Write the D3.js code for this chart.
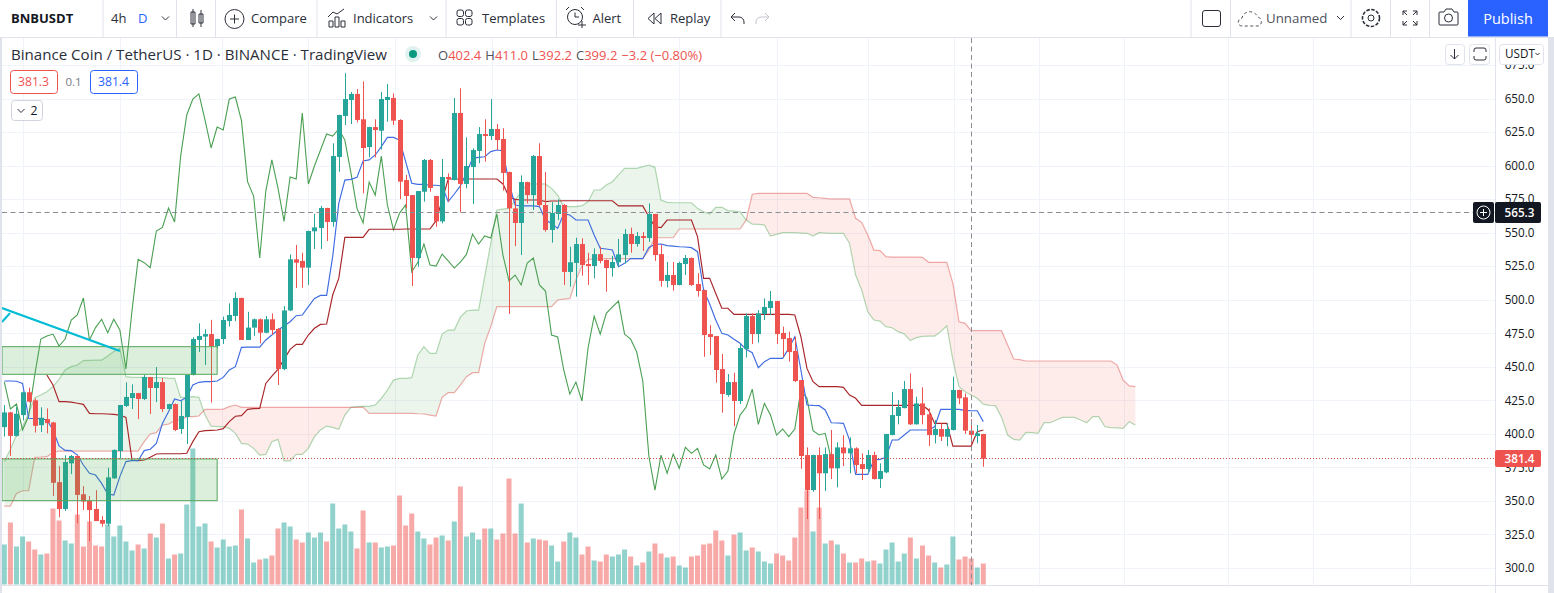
<!DOCTYPE html>
<html><head><meta charset="utf-8">
<script src="https://cdn.jsdelivr.net/npm/d3@7"></script>
<style>html,body{margin:0;padding:0;background:#fff;overflow:hidden}svg{display:block}text{font-family:"Open Sans","Noto Sans",sans-serif}</style>
</head><body><div id="chart"></div>
<script>
const opens=[405,416,398.5,414,431,425,406.5,411,408.5,364,344,378,383.5,355,350,344,335.8,333,366.8,387.2,420.8,426.7,430.4,426,442.4,434.2,438.6,418.5,422.2,403.6,412.6,443.9,470,472.5,474.4,465.5,470.7,484.1,487.9,501.3,470,479.2,485.4,475.4,485.4,478.2,448.3,492,530.1,528.9,523.9,551,553.5,568.4,557.9,606.4,637,648.9,653.4,634.5,613.8,628.7,626,648.9,650.4,634,589.2,578,531.1,580.5,604.2,577.3,558.4,591.5,589.2,639.2,586.3,598.9,610.9,623.5,622,627.3,619.8,595.2,568.1,557.2,587.7,578,607.1,570.6,552,563.9,570.6,520.7,527.4,541.5,526.6,525.1,534,529.6,523.6,527.9,533.3,549,541.5,547.5,546,563.9,534,514,518.4,511,526.6,531.1,511.7,507.2,474.4,472.9,448.3,429,438.6,424.5,463.2,487.8,474.4,489.3,493.8,499,475.2,471.4,461.8,440.1,384.2,358.1,384.2,370.6,384.9,374.3,389.9,385.5,389.2,377.5,373.8,384.2,366.3,371.3,399.1,413.3,419.2,433.4,407.1,422.7,414.5,399.1,403.6,397.9,402.9,432.7,427.2,402.4,398.4,399.9];
const highs=[421.5,416.5,420,431.5,434.4,426.5,419.8,419,409,376,384,384.2,384,361,353.7,358,338.7,374.8,388.5,421.5,438.4,436.9,430.5,443.9,442.5,449.8,441.6,422.5,422.7,424.5,444,472,482.4,478,485,471,487.4,497.3,505.5,501.5,491,486,486,487.9,489.8,479,495.3,533.8,540.8,535,551.5,563.9,569.9,568.5,616.6,638,668.8,654.8,657,662.8,629,634.5,654.8,660.8,653.8,634.5,593,578,581,604.9,604.9,577.5,604.9,594.2,650.4,657.6,621,612.9,628.7,634.5,649.6,631,627.8,595.5,574.3,592.7,588,607.9,616.6,595.2,572.8,574.8,571.3,539.5,546.2,545.8,535,538.3,539.5,530,532.6,545.3,552.7,553.7,550.5,550.5,571.8,564,540.8,528.1,528.1,528.4,533.3,531.5,519.7,507.5,481.1,473,459.5,444.6,445.6,467.5,489.8,489.8,492.3,501,506.5,499.2,479.9,476.2,472.4,440.2,389.9,384.5,389.9,389.9,402.9,393.7,399,397.4,390,385.5,388,386.7,378,400,431.2,425.2,439.4,445.1,427.7,434.7,419,410.3,407.8,407.8,442.6,433,430.2,411,406.6,400];
const lows=[398,383.5,398,410,423.5,401,401.4,400.4,353.7,337.8,342.5,370,333.3,343.2,319.9,335,330.8,331.3,366.5,381.7,420,418.5,411.1,425.2,414.8,423.7,416.3,418,402.1,399.9,392.4,443.5,461,451.3,423.3,463.8,467,480,484,470,470,473,467.5,475,473.7,436.4,447.5,491.5,508.7,509,511,537.8,537.8,543.8,554.4,595.4,630.2,631,632.2,579.3,606.2,606,612,632.7,630.2,575,568.1,510.2,524.6,573.1,580.5,554.4,556.9,573.1,589,565.1,583,571.3,601.7,602.9,619,611.6,581.3,489.4,540,533.3,571.8,566.9,569.4,550.7,542.5,559.4,511,509.7,502.3,517.9,511,515.9,527.1,506,517.2,524.6,527.1,535,539.5,536.3,543,528.9,509.7,509.2,506.7,510.7,518.4,510.2,502.3,457.5,458.8,438.1,415.8,427.7,405.8,422.2,457,466.9,468,484.9,488.6,467,457.5,453.8,438.6,374,336.5,356.9,336.5,357.4,366.3,360.1,376,370.6,370.6,365.6,370.6,366,359.6,370.6,399,407.1,419,406.6,407,407.1,390.9,392.9,394.7,390.9,402.5,422.2,399.9,392.2,392.9,375.5];
const closes=[416,398.5,415,431,424,406,412,408,363.5,344,379,383.5,354.5,349.5,343.2,335,333,367.6,388,421.5,427.5,430.4,426,442.4,434.2,438.6,418.5,422.2,402.9,413.3,443.9,470.7,473,474.4,465.5,470.7,484.9,488.6,501.3,470,479.2,485.4,475.4,485.4,477.4,448.3,492,530.1,527.6,523.9,551.2,553.9,568.4,557.9,607.1,637.7,649.6,653.4,634,613.1,628.7,626.5,649.6,651.1,633.5,588,577.3,531.1,581,604.2,583.3,558.4,591.5,590,639.2,586.3,599.7,611.6,623.5,622,627.3,619,594.5,568.1,557.2,587.7,578,607.1,570.6,552,564.6,570.6,520.7,527.9,541.5,525.9,525.1,534,528.9,523.6,528.1,533.8,549,541.5,547.5,546,563.9,533.3,514,518.4,511,527.4,531.1,511,506.5,473.7,472.2,447.6,429.7,438.6,424.5,464,487.8,474.4,489.8,494.6,499,474.4,470.7,461,439.4,383.5,358.1,384.2,370.6,384.9,374.3,389.9,385.5,389.2,376.8,373.8,384.2,366.3,372.3,399.9,414,420,433.4,407.1,422.7,414,399.1,403.6,397.9,403.6,432.7,426.5,402.4,399.2,400.4,381.4];
const volumes=[120,186,114,144,129,105,90,93,228,192,132,123,210,114,189,117,114,180,144,177,129,102,120,108,153,141,183,78,90,93,240,408,174,183,129,111,135,114,117,225,138,66,75,78,87,168,186,174,135,126,156,141,156,129,243,168,180,159,108,222,126,126,111,114,117,267,177,213,159,138,120,141,147,132,189,294,144,156,135,168,168,135,153,318,153,243,126,138,135,132,117,69,129,156,141,90,114,72,69,90,84,90,105,84,57,66,99,123,93,81,84,57,51,84,87,120,123,162,132,87,150,156,102,111,99,69,63,93,87,72,141,231,282,159,231,123,132,120,93,66,66,78,69,72,63,105,126,69,93,141,78,117,87,66,51,60,144,75,84,78,51,63];
const tenkan=[439.4,439.4,439.2,437.6,411.6,411.3,411.3,410.3,402.9,391,387.7,387.5,384.2,376.8,370.6,369.3,363.1,355.1,354.4,368.1,379.3,380,380,387.5,388.5,392.9,407.8,416.5,426,424.7,427.2,436.4,438.4,438.9,438.9,439.4,442.1,447.6,450.1,464.5,464.7,464.7,464.7,470,473.7,477.4,480.4,483.6,488.1,488.6,494.8,501,503.2,503.2,532.1,571.8,589.2,589.7,591.2,603.4,604.2,607.9,614.1,621,621,619,602.9,586.8,586,586,585.3,585.3,584.8,573.1,578.8,584.8,594.2,605.4,606.1,606.6,610.4,611.6,611.1,586.8,570.6,569.9,569.9,569.9,569.4,559.4,556.9,553.2,563.9,563.2,559.4,559.4,559.4,548.2,538.3,537.8,537.1,524.6,527.1,530.6,530.6,530.6,539,541.3,541.5,540.3,540,539.5,539.3,538.8,535.8,507.2,496.8,484.9,474.9,473.7,470.5,467.5,463,460.5,449.3,453.8,456.3,456.3,456.3,463.7,472.4,447.6,421.5,421.2,421,417.8,408.3,408.1,407.8,395.4,369.8,369.8,369.8,380.5,381,382.5,395.4,395.4,399.1,402.9,402.9,402.9,402.9,405.3,418.3,418.3,418.3,418.3,417.5,417.2,417.2,409.1];
const kijun=[null,null,null,null,null,null,null,443.9,436.4,424,424,423.7,422.8,422,415.3,415,415,414.8,414.5,414,412.3,380.5,380,380.5,382.5,385,385.2,385.2,385.2,385.2,385.5,394.2,401.6,402.4,402.6,402.9,403.9,409.1,413.1,413.6,418.3,418.8,419,437.6,443.1,448.1,455.5,463,466.7,466.7,473.7,478.7,481.6,481.9,503.5,515.9,546.5,546.5,546.5,546.5,552.5,552.5,552.5,552.5,552.5,552.5,552.7,552.7,552.7,552.7,552.7,558.9,574.3,590,590,590,590,590,590,590,590,590,586.3,576.8,574.8,574.3,574.3,574.3,574.3,573.1,573.6,573.6,573.8,573.8,573.8,573.8,573.8,573.8,573.8,573.8,573.8,569.9,569.9,569.9,569.9,569.9,561.9,554.4,553.7,559.4,559.4,559.4,559.4,559.4,547,515.9,515.9,504.7,493.6,493.6,489.1,489.1,489.1,489.1,489.1,489.1,489.1,489.1,489.1,489.1,488.6,472.4,448.8,438.9,435.2,435.2,435.2,435.2,434.7,428.9,426.5,421.2,421.2,421.2,421.2,421.2,421.2,421.2,421.2,421.2,421.2,421.2,417.8,407.8,407.8,407.8,390.9,390.9,390.9,390.9,401.6,402.9];
const chikou=[438.6,418.5,422.2,402.9,413.3,443.9,470.7,473,474.4,465.5,470.7,484.9,488.6,501.3,470,479.2,485.4,475.4,485.4,477.4,448.3,492,530.1,527.6,523.9,551.2,553.9,568.4,557.9,607.1,637.7,649.6,653.4,634,613.1,628.7,626.5,649.6,651.1,633.5,588,577.3,531.1,581,604.2,583.3,558.4,591.5,590,639.2,586.3,599.7,611.6,623.5,622,627.3,619,594.5,568.1,557.2,587.7,578,607.1,570.6,552,564.6,570.6,520.7,527.9,541.5,525.9,525.1,534,528.9,523.6,528.1,533.8,549,541.5,547.5,546,563.9,533.3,514,518.4,511,527.4,531.1,511,506.5,473.7,472.2,447.6,429.7,438.6,424.5,464,487.8,474.4,489.8,494.6,499,474.4,470.7,461,439.4,383.5,358.1,384.2,370.6,384.9,374.3,389.9,385.5,389.2,376.8,373.8,384.2,366.3,372.3,399.9,414,420,433.4,407.1,422.7,414,399.1,403.6,397.9,403.6,432.7,426.5,402.4,399.2,400.4,381.4];
const spanA=[379.3,388.5,399.1,405.3,415.3,427,429,431.4,435.2,440.6,447.6,450.1,451.3,454.6,454.8,455,455,458,461.3,463.8,442.6,442.1,442.1,442.1,441.9,441.9,441.9,441.6,441.4,427.2,427.2,427.7,427.2,414,405.8,405.4,405.4,404.1,400.4,392.9,392.4,389.2,384.2,384.7,394.2,395.9,379.8,379.8,384.7,384.7,389.2,397.9,402.9,405.8,404.8,403.4,414,419.8,420.3,420.5,420.5,421.5,426.5,432.7,440.1,441.4,441.4,441.9,458.8,465,460,460,474.4,477.4,477.4,487,491.6,492.3,492.3,517.2,542,566.9,567.6,568.1,574.3,580.5,586.3,586.3,586.3,586.3,583,578,569.4,569.4,569.4,570.1,573.1,581.8,581.8,585.5,588,593,597.9,597.9,597.9,599.2,600.4,598.7,574.3,572.6,572.3,572.3,572.3,572.3,568.1,565.6,563.9,568.9,568.9,566.4,566.1,565.6,559.4,556.4,556.2,555.7,547.5,548.7,550,550,550,549.7,549.5,547.5,550,549.7,549.5,549.5,549.5,542,518.4,507.2,491,484.9,484.1,479.9,479.1,476.2,474.4,469.5,471.7,472.7,472.9,472.9,476.2,480.6,455,435.2,431.4,428.9,426.5,422.2,421.2,421,412.3,399.1,395.9,395.4,401.1,400.9,400.4,408.3,408.3,410.3,412.3,412.3,412.3,410.3,408.3,412.8,412.8,405.3,404.6,404.4,404.1,409.1,406.6];
const spanB=[346.2,346.2,355.6,357.6,357.6,382.5,382.7,383,386,387.2,387.2,387.2,387.2,387.2,387.2,387.2,387.2,387.2,387.2,387.2,387.2,387.2,387.2,394.2,399.9,400.9,406.6,407.3,409.8,410.3,412.8,412.8,413.3,418.3,418.3,418.3,418.5,420.3,421.5,419.8,419.8,419.8,419.8,419.8,419.8,419.8,419.8,419.8,419.8,419.8,419.8,419.8,419.8,419.8,419.8,419.8,419.8,419.8,419.8,420,415.3,415.3,415.3,415.3,415.3,415.3,415.3,415.3,415,414.8,414,413.3,427.2,430.7,430.7,436.4,442.6,445.6,445.6,467.5,479.9,494.8,494.8,494.8,494.8,494.8,494.8,494.8,494.8,494.8,494.8,499.8,500.5,500.8,514.7,525.1,530.1,530.3,530.3,530.6,530.6,530.6,530.6,530.6,530.6,530.6,537,546.2,546.2,546.2,546.2,552.7,552.7,552.7,552.7,552.7,552.7,552.7,552.7,552.7,552.7,552.7,559.4,578.6,579.3,579.3,579.3,579.3,579.3,579.3,579.3,579.3,579.3,576.3,576,575.6,575.1,575.1,575.1,575.1,560.7,557.7,548.2,537,536.6,532.1,531.8,531.8,531.8,531.8,531.8,531.6,527.9,527.9,527.9,527.9,512.2,483.6,482.4,476.9,476.9,476.9,476.9,476.9,476.9,466.2,455.8,455.3,454.3,454.3,454.3,454.3,454.3,454.3,454.3,454.3,454.3,454.3,454.3,454.3,454.3,454.3,454.3,451.3,440.1,435.7,435.2];
const priceTicks=[300,325,350,375,400,425,450,475,500,525,550,575,600,625,650,675];
const monthGrid=[3,19.1,35.8,50,64.3,80.2,94.1,111,127,142.1,156.1,170.1,184.1,201.2,215.3,231.2];
const zoneTop=[465,444.4], zoneBottom=[381.3,350.2], zoneBars=[-0.38,35];
const trendBars=[-0.4,19], trendPrices=[493.8,461.8];
const trendTickBars=[-0.4,0.93], trendTickPrices=[483.4,490];
const lastPrice=381.4, crossPrice=565.3;
const toolbarLabels=[["4h",111],["Compare",251],["Indicators",353],["Templates",482],["Alert",592.5],["Replay",670]];
const titleText="Binance Coin / TetherUS · 1D · BINANCE · TradingView";
const ohlc=[["O",0],["402.4",1],["H",0],["411.0",1],["L",0],["392.2",1],["C",0],["399.2",1],["−3.2 (−0.80%)",1]];

const W=1554,H=593,L=2,R=1495,T=38,B=585;
const C={up:"#26a69a",down:"#ef5350",grid:"#f0f3fa",border:"#e0e3eb",text:"#131722"};
const svg=d3.select("#chart").append("svg").attr("width",W).attr("height",H).attr("viewBox",`0 0 ${W} ${H}`);
const y=d3.scaleLinear().domain([300,650]).range([568,98.5]);
const x=d3.scaleLinear().domain([0,161]).range([4.33,983.3]);
const yv=d3.scaleLinear().domain([0,408]).range([584.5,448.5]);
svg.append("defs").append("clipPath").attr("id","pane").append("rect").attr("x",L).attr("y",T).attr("width",R-L).attr("height",B-T);
const pane=svg.append("g").attr("clip-path","url(#pane)");

// grid
pane.append("g").selectAll("line").data(priceTicks).join("line").attr("x1",L).attr("x2",R).attr("y1",d=>Math.round(y(d))+.5).attr("y2",d=>Math.round(y(d))+.5).attr("stroke",C.grid);
pane.append("g").selectAll("line").data(monthGrid).join("line").attr("y1",T).attr("y2",B).attr("x1",d=>Math.round(x(d))+.5).attr("x2",d=>Math.round(x(d))+.5).attr("stroke",C.grid);

// volume
const isUp=i=>closes[i]>=opens[i];
pane.append("g").selectAll("rect").data(volumes).join("rect")
  .attr("x",(d,i)=>x(i)-2.5).attr("width",5).attr("y",d=>yv(d)).attr("height",d=>yv(0)-yv(d))
  .attr("fill",(d,i)=>isUp(i)?C.up:C.down).attr("fill-opacity",.5);

// cloud: split the band where the two spans cross
const segs=[];let cur=null;
spanA.forEach((a,i)=>{
  const b=spanB[i],sign=a>=b;
  if(!cur){cur={up:sign,pts:[{i,a,b}]};segs.push(cur);return;}
  if(sign!==cur.up){
    const pa=spanA[i-1],pb=spanB[i-1],t=(pb-pa)/((a-pa)-(b-pb)),v=pa+t*(a-pa);
    const px={i:i-1+t,a:v,b:v};cur.pts.push(px);cur={up:sign,pts:[px,{i,a,b}]};segs.push(cur);
  } else cur.pts.push({i,a,b});
});
const area=d3.area().x(d=>x(d.i)).y0(d=>y(d.a)).y1(d=>y(d.b));
pane.append("g").selectAll("path").data(segs).join("path").attr("d",d=>area(d.pts))
  .attr("fill",d=>d.up?"#43a047":"#f44336").attr("fill-opacity",.1);
const ln=(arr,col,op=1,w=1)=>pane.append("path")
  .attr("d",d3.line().defined(d=>d!==null).x((d,i)=>x(i)).y(d=>y(d))(arr)).attr("fill","none").attr("stroke",col).attr("stroke-opacity",op).attr("stroke-width",w);
ln(spanA,"#43a047",.4,1.2);
ln(spanB,"#d8352f",.4,1.2);
ln(chikou,"#4a9f52",1,1.1);
ln(kijun,"#a82528",1,1.15);
ln(tenkan,"#3f6be0",1,1.15);

// candles
pane.append("g").selectAll("line").data(highs).join("line").attr("x1",(d,i)=>Math.round(x(i))+.5).attr("x2",(d,i)=>Math.round(x(i))+.5)
  .attr("y1",d=>y(d)).attr("y2",(d,i)=>y(lows[i])).attr("stroke",(d,i)=>isUp(i)?C.up:C.down);
pane.append("g").selectAll("rect").data(opens).join("rect").attr("x",(d,i)=>Math.round(x(i))-2).attr("width",5)
  .attr("y",(d,i)=>y(Math.max(d,closes[i]))).attr("height",(d,i)=>Math.max(1,Math.abs(y(d)-y(closes[i]))))
  .attr("fill",(d,i)=>isUp(i)?C.up:C.down);

// drawings
[zoneTop,zoneBottom].forEach(z=>pane.append("rect").attr("x",x(zoneBars[0])).attr("width",x(zoneBars[1])-x(zoneBars[0]))
  .attr("y",y(z[0])).attr("height",y(z[1])-y(z[0])).attr("fill","#4caf50").attr("fill-opacity",.2).attr("stroke","#55a65a").attr("stroke-width",1));
pane.append("line").attr("x1",x(trendBars[0])).attr("x2",x(trendBars[1])).attr("y1",y(trendPrices[0])).attr("y2",y(trendPrices[1])).attr("stroke","#00bcd4").attr("stroke-width",2.2);
pane.append("line").attr("x1",x(trendTickBars[0])).attr("x2",x(trendTickBars[1])).attr("y1",y(trendTickPrices[0])).attr("y2",y(trendTickPrices[1])).attr("stroke","#00bcd4").attr("stroke-width",2.2);

// price lines & crosshair
pane.append("line").attr("x1",L).attr("x2",R).attr("y1",Math.round(y(lastPrice))-.5).attr("y2",Math.round(y(lastPrice))-.5).attr("stroke","#cc4b47").attr("stroke-dasharray","1 2");
const cy=Math.round(y(crossPrice))+.5,cx=971.5;
pane.append("line").attr("x1",L).attr("x2",R).attr("y1",cy).attr("y2",cy).attr("stroke","#8a8d93").attr("stroke-dasharray","5 3.5");
pane.append("line").attr("x1",cx).attr("x2",cx).attr("y1",T).attr("y2",B+3).attr("stroke","#8a8d93").attr("stroke-dasharray","5 3.5");

// frame
svg.append("rect").attr("x",0).attr("y",T).attr("width",2).attr("height",H-T).attr("fill",C.border);
svg.append("rect").attr("x",1548).attr("y",T).attr("width",6).attr("height",H-T).attr("fill",C.border);
svg.append("rect").attr("x",0).attr("y",37).attr("width",W).attr("height",1).attr("fill",C.border);
svg.append("line").attr("x1",L).attr("x2",1548).attr("y1",585.5).attr("y2",585.5).attr("stroke",C.border);
svg.append("line").attr("x1",1495.5).attr("x2",1495.5).attr("y1",T).attr("y2",H).attr("stroke",C.border);

// price axis
const axisG=svg.append("g").attr("transform","translate(1534.5,0)")
  .call(d3.axisRight(y).tickValues(priceTicks).tickFormat(d3.format(".1f")).tickSize(0).tickPadding(0));
axisG.select(".domain").remove();
axisG.selectAll("text").attr("text-anchor","end").attr("fill",C.text).attr("font-size",11.7).style("font-family",'"Open Sans","Noto Sans",sans-serif');

const mk=(xx,yy,t,o={})=>svg.append("text").attr("x",xx).attr("y",yy).text(t).attr("fill",o.fill||C.text).attr("font-size",o.size||12.5)
  .attr("font-weight",o.weight||400).attr("text-anchor",o.anchor||"start");
svg.append("rect").attr("x",1473).attr("y",202).attr("width",21).attr("height",21).attr("rx",2).attr("fill",C.text);
svg.append("circle").attr("cx",1483.5).attr("cy",212.5).attr("r",6.5).attr("fill","none").attr("stroke","#fff");
svg.append("path").attr("d","M1480 212.5H1487M1483.5 209V216").attr("stroke","#fff");
svg.append("rect").attr("x",1495).attr("y",202).attr("width",46).attr("height",21).attr("rx",2).attr("fill",C.text);
mk(1534.5,217,d3.format(".1f")(crossPrice),{fill:"#fff",weight:600,size:11.7,anchor:"end"});
svg.append("rect").attr("x",1495).attr("y",450).attr("width",46).attr("height",17).attr("rx",2).attr("fill",C.down);
mk(1534.5,463,d3.format(".1f")(lastPrice),{fill:"#fff",weight:600,size:11.7,anchor:"end"});

// toolbar
svg.append("rect").attr("width",W).attr("height",37).attr("fill","#fff");
[103,176.5,215.5,317,446,556.5,633.5,721,1191,1230.5,1351,1390.5,1429.5].forEach(v=>svg.append("line").attr("x1",v).attr("x2",v).attr("y1",0).attr("y2",37).attr("stroke",C.border));
mk(11,23,"BNBUSDT",{weight:700,size:13});
toolbarLabels.forEach(d=>mk(d[1],23,d[0],{size:13,fill:"#2a2e39"}));
mk(138,23,"D",{size:13,fill:"#2962ff"});
mk(1266,23,"Unnamed",{size:13.3,fill:"#50535e"});
svg.append("rect").attr("x",1468).attr("y",0).attr("width",80).attr("height",36.5).attr("fill","#2962ff");
mk(1508,24,"Publish",{fill:"#fff",size:14.5,weight:500,anchor:"middle"});

// legend
mk(11,60,titleText,{size:15.1,fill:"#2a2e39"});
svg.append("circle").attr("cx",413).attr("cy",54).attr("r",8).attr("fill","#26a69a").attr("fill-opacity",.15);
svg.append("circle").attr("cx",413).attr("cy",54).attr("r",4).attr("fill","#089981");
const leg=svg.append("text").attr("x",438).attr("y",60).attr("font-size",13);
ohlc.forEach(d=>leg.append("tspan").text(d[0]).attr("fill",d[1]?C.down:"#50535e").attr("dx",d[0]==="H"||d[0]==="L"||d[0]==="C"||d[0][0]==="−"?4:0));
const box=(xx,yy,w,h,col)=>svg.append("rect").attr("x",xx+.5).attr("y",yy+.5).attr("width",w).attr("height",h).attr("rx",3).attr("fill","#fff").attr("stroke",col);
box(10,70,47,23,"#ef5350"); mk(33.5,86,"381.3",{fill:"#ef5350",size:12.2,anchor:"middle"});
mk(73.5,86,"0.1",{fill:"#787b86",size:11.5,anchor:"middle"});
box(90,70,47,23,"#2962ff"); mk(113.5,86,"381.4",{fill:"#2962ff",size:12.2,anchor:"middle"});
box(11,100,31,20,"#d1d4dc"); mk(34,115,"2",{size:12.2,anchor:"middle"});
box(1445,44,19,20,"#e0e3eb");
box(1469,44,20,20,"#e0e3eb");
box(1499,44,44,20,"#e0e3eb"); mk(1505,58,"USDT",{size:11.7});

// icons
const ic=svg.append("g").attr("fill","none").attr("stroke","#2a2e39").attr("stroke-width",1);
const p=d=>ic.append("path").attr("d",d);
p("M162 16.5l3.5 3.5 3.5-3.5"); p("M430 16.5l3.5 3.5 3.5-3.5"); p("M1337 16l3.5 3.5 3.5-3.5");
p("M191 12h4v12h-4zM193 9V27M199 14h4v9h-4zM201 10V27");
ic.append("circle").attr("cx",234.5).attr("cy",19).attr("r",9.5); p("M230 19h9M234.5 14.5v9");
p("M329 27v-6h4v6zM335 27V17h4v10zM341 27V21h4v6zM328 17l5-5 4 2 7-5");
[[457,10],[465.5,10],[457,18.5],[465.5,18.5]].forEach(d=>ic.append("rect").attr("x",d[0]).attr("y",d[1]).attr("width",6.5).attr("height",6.5).attr("rx",2));
ic.append("circle").attr("cx",575).attr("cy",17).attr("r",7.5); p("M575 12.5v4.5h4M566 10l3-3M584 10l-3-3M578 25h8M582 21v7");
p("M654 13l-6 5.5 6 5.5zM661 13l-6 5.5 6 5.5z");
p("M735 13l-4 4 4 4M731 17h8a5 5 0 0 1 5 5v2");
ic.append("path").attr("d","M765 13l4 4-4 4M769 17h-8a5 5 0 0 0-5 5v2").attr("stroke","#c1c4cd");
ic.append("rect").attr("x",1202.5).attr("y",10.5).attr("width",18).attr("height",16).attr("rx",2.5);
ic.append("path").attr("d","M1242 26c-5 0-5-7 0-8 1-5 6-7 10-6 3 1 5 3 6 5 4 1 5 8 0 9h-16").attr("stroke-dasharray","3 2.5").attr("stroke","#50535e");
ic.append("circle").attr("cx",1371).attr("cy",18).attr("r",3);
ic.append("circle").attr("cx",1371).attr("cy",18).attr("r",8.5).attr("stroke-dasharray","3.5 1.5").attr("stroke-width",1.6);
p("M1403 11l4 4M1403 11h4M1403 11v4M1417 11l-4 4M1417 11h-4M1417 11v4M1403 25l4-4M1403 25h4M1403 25v-4M1417 25l-4-4M1417 25h-4M1417 25v-4");
p("M1440 12h4l2-3h6l2 3h3a1 1 0 0 1 1 1v11a1 1 0 0 1-1 1h-17a1 1 0 0 1-1-1v-11a1 1 0 0 1 1-1z");
ic.append("circle").attr("cx",1448.5).attr("cy",18).attr("r",4);
p("M17.5 109l3.5 3.5 3.5-3.5");
p("M1454.5 49v10M1450.5 55l4 4 4-4");
p("M1474 52v-2a2 2 0 0 1 2-2h8a2 2 0 0 1 2 2v2M1474 56v2a2 2 0 0 0 2 2h8a2 2 0 0 0 2-2v-2");
p("M1535.5 53l2 2 2-2");
</script></body></html>
